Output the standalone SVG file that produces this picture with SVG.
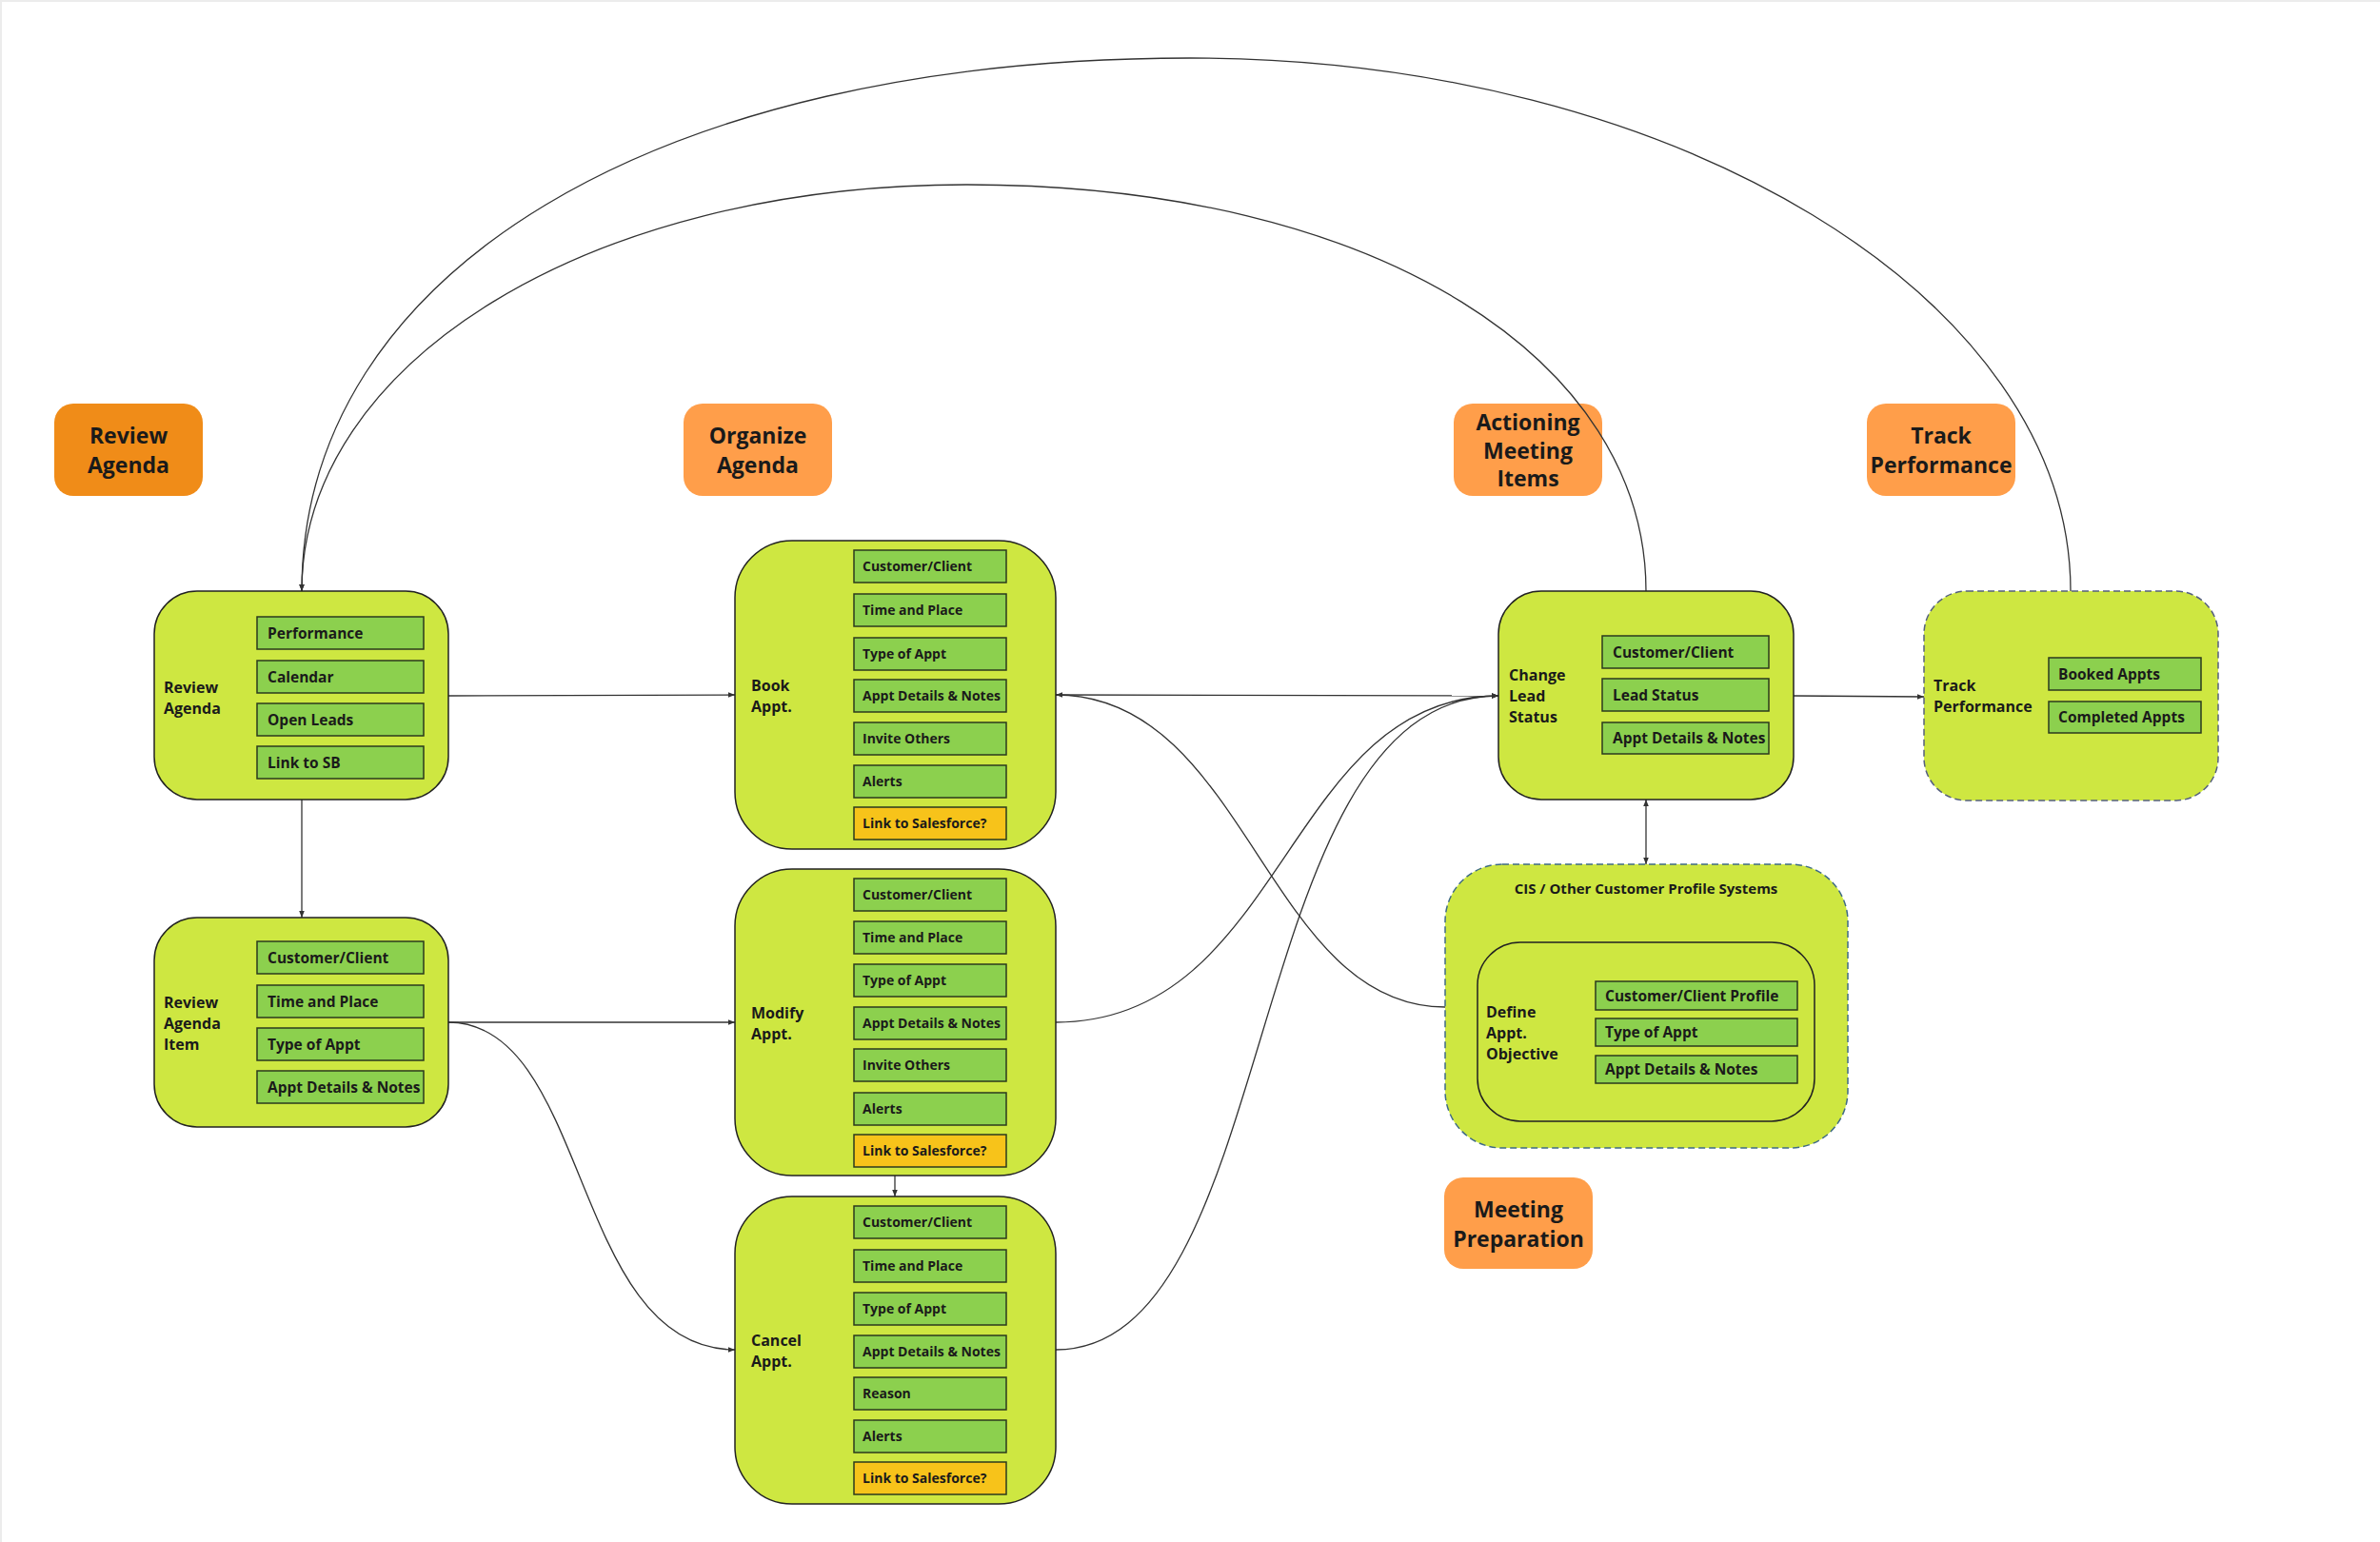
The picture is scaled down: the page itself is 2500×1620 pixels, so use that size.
<svg xmlns="http://www.w3.org/2000/svg" width="2500" height="1620" viewBox="0 0 2500 1620">
<defs>
<style>
.bg{fill:#ffffff}
.edge{fill:#ececec}
.phase{stroke:none}
.phase-dark{fill:#F08C18}
.phase-light{fill:#FF9E4A}
.phase-text{font-family:"Open Sans","Liberation Sans",sans-serif;font-weight:700;font-size:23px;fill:#1a1a1a;text-anchor:middle}
.node{fill:#CEE741;stroke:#222222;stroke-width:1.5}
.node-dash{fill:#CEE741;stroke:#55607f;stroke-width:1.5;stroke-dasharray:7 4}
.node-dash2{fill:#CEE741;stroke:#3f6b86;stroke-width:1.5;stroke-dasharray:7 4}
.inner{fill:none;stroke:#222222;stroke-width:1.5}
.label{font-family:"Open Sans","Liberation Sans",sans-serif;font-weight:700;font-size:16px;fill:#1a1a1a}
.item{fill:#8CD04E;stroke:#2b3a1e;stroke-width:1.5}
.sf{fill:#F7C31A;stroke:#2b3a1e;stroke-width:1.5}
.it{font-family:"Open Sans","Liberation Sans",sans-serif;font-weight:700;font-size:15.5px;fill:#1a1a1a}
.its{font-family:"Open Sans","Liberation Sans",sans-serif;font-weight:700;font-size:14px;fill:#1a1a1a}
.title{font-family:"Open Sans","Liberation Sans",sans-serif;font-weight:700;font-size:15px;fill:#1a1a1a;text-anchor:middle}
.conn{fill:none;stroke:#333333;stroke-width:1.3}
</style>
<marker id="arr" viewBox="0 0 10 10" refX="10" refY="5" markerWidth="7" markerHeight="7" markerUnits="userSpaceOnUse" orient="auto">
<path d="M0,1 L10,5 L0,9 z" fill="#333333"/>
</marker>
<marker id="arrs" viewBox="0 0 10 10" refX="0" refY="5" markerWidth="7" markerHeight="7" markerUnits="userSpaceOnUse" orient="auto">
<path d="M10,1 L0,5 L10,9 z" fill="#333333"/>
</marker>
</defs>
<rect class="bg" x="0" y="0" width="2500" height="1620"/>
<rect class="edge" x="0" y="0" width="2500" height="2"/>
<rect class="edge" x="0" y="0" width="2" height="1620"/>

<g id="phase-review-agenda">
<rect class="phase phase-dark" x="57" y="424" width="156" height="97" rx="20"/>
<text class="phase-text" x="135" y="466">Review</text>
<text class="phase-text" x="135" y="497">Agenda</text>
</g>
<g id="phase-organize-agenda">
<rect class="phase phase-light" x="718" y="424" width="156" height="97" rx="20"/>
<text class="phase-text" x="796" y="466">Organize</text>
<text class="phase-text" x="796" y="497">Agenda</text>
</g>
<g id="phase-actioning">
<rect class="phase phase-light" x="1527" y="424" width="156" height="97" rx="20"/>
<text class="phase-text" x="1605" y="452">Actioning</text>
<text class="phase-text" x="1605" y="482">Meeting</text>
<text class="phase-text" x="1605" y="511">Items</text>
</g>
<g id="phase-track-performance">
<rect class="phase phase-light" x="1961" y="424" width="156" height="97" rx="20"/>
<text class="phase-text" x="2039" y="466">Track</text>
<text class="phase-text" x="2039" y="497">Performance</text>
</g>
<g id="phase-meeting-preparation">
<rect class="phase phase-light" x="1517" y="1237" width="156" height="96" rx="20"/>
<text class="phase-text" x="1595" y="1279">Meeting</text>
<text class="phase-text" x="1595" y="1310">Preparation</text>
</g>

<g id="connectors">
<path class="conn" d="M2175,621 C2175,313 1759,61 1250,61 C690,61 317,285 317,621" marker-end="url(#arr)"/>
<path class="conn" d="M1729,621 C1729,380 1450,194 1015,194 C620,194 317,380 317,621" marker-end="url(#arr)"/>
<path class="conn" d="M471,731 L772,730" marker-end="url(#arr)"/>
<path class="conn" d="M317,840 L317,964" marker-end="url(#arr)"/>
<path class="conn" d="M471,1074 L772,1074" marker-end="url(#arr)"/>
<path class="conn" d="M471,1074 C620,1074 600,1418 772,1418" marker-end="url(#arr)"/>
<path class="conn" d="M940,1235 L940,1257" marker-end="url(#arr)"/>
<path class="conn" d="M1109,730 L1574,731" marker-end="url(#arr)"/>
<path class="conn" d="M1518,1058 C1330,1058 1310,730 1109,730" marker-end="url(#arr)"/>
<path class="conn" d="M1109,1074 C1350,1074 1350,731 1574,731" marker-end="url(#arr)"/>
<path class="conn" d="M1109,1418 C1350,1418 1300,731 1574,731" marker-end="url(#arr)"/>
<path class="conn" d="M1729,840 L1729,908" marker-start="url(#arrs)" marker-end="url(#arr)"/>
<path class="conn" d="M1884,731 L2021,732" marker-end="url(#arr)"/>
</g>

<g id="node-review-agenda">
<rect class="node" x="162" y="621" width="309" height="219" rx="45"/>
<text class="label" x="172" y="728">Review</text>
<text class="label" x="172" y="750">Agenda</text>
<rect class="item" x="270" y="648" width="175" height="34"/>
<text class="it" x="281" y="671">Performance</text>
<rect class="item" x="270" y="694" width="175" height="34"/>
<text class="it" x="281" y="717">Calendar</text>
<rect class="item" x="270" y="739" width="175" height="34"/>
<text class="it" x="281" y="762">Open Leads</text>
<rect class="item" x="270" y="784" width="175" height="34"/>
<text class="it" x="281" y="807">Link to SB</text>
</g>

<g id="node-review-agenda-item">
<rect class="node" x="162" y="964" width="309" height="220" rx="45"/>
<text class="label" x="172" y="1059">Review</text>
<text class="label" x="172" y="1081">Agenda</text>
<text class="label" x="172" y="1103">Item</text>
<rect class="item" x="270" y="989" width="175" height="34"/>
<text class="it" x="281" y="1012">Customer/Client</text>
<rect class="item" x="270" y="1035" width="175" height="34"/>
<text class="it" x="281" y="1058">Time and Place</text>
<rect class="item" x="270" y="1080" width="175" height="34"/>
<text class="it" x="281" y="1103">Type of Appt</text>
<rect class="item" x="270" y="1125" width="175" height="34"/>
<text class="it" x="281" y="1148">Appt Details &amp; Notes</text>
</g>

<g id="node-book-appt">
<rect class="node" x="772" y="568" width="337" height="324" rx="60"/>
<text class="label" x="789" y="726">Book</text>
<text class="label" x="789" y="748">Appt.</text>
<rect class="item" x="897" y="578" width="160" height="34"/>
<text class="its" x="906" y="600">Customer/Client</text>
<rect class="item" x="897" y="624" width="160" height="34"/>
<text class="its" x="906" y="646">Time and Place</text>
<rect class="item" x="897" y="670" width="160" height="34"/>
<text class="its" x="906" y="692">Type of Appt</text>
<rect class="item" x="897" y="714" width="160" height="34"/>
<text class="its" x="906" y="736">Appt Details &amp; Notes</text>
<rect class="item" x="897" y="759" width="160" height="34"/>
<text class="its" x="906" y="781">Invite Others</text>
<rect class="item" x="897" y="804" width="160" height="34"/>
<text class="its" x="906" y="826">Alerts</text>
<rect class="sf" x="897" y="848" width="160" height="34"/>
<text class="its" x="906" y="870">Link to Salesforce?</text>
</g>

<g id="node-modify-appt">
<rect class="node" x="772" y="913" width="337" height="322" rx="60"/>
<text class="label" x="789" y="1070">Modify</text>
<text class="label" x="789" y="1092">Appt.</text>
<rect class="item" x="897" y="923" width="160" height="34"/>
<text class="its" x="906" y="945">Customer/Client</text>
<rect class="item" x="897" y="968" width="160" height="34"/>
<text class="its" x="906" y="990">Time and Place</text>
<rect class="item" x="897" y="1013" width="160" height="34"/>
<text class="its" x="906" y="1035">Type of Appt</text>
<rect class="item" x="897" y="1058" width="160" height="34"/>
<text class="its" x="906" y="1080">Appt Details &amp; Notes</text>
<rect class="item" x="897" y="1102" width="160" height="34"/>
<text class="its" x="906" y="1124">Invite Others</text>
<rect class="item" x="897" y="1148" width="160" height="34"/>
<text class="its" x="906" y="1170">Alerts</text>
<rect class="sf" x="897" y="1192" width="160" height="34"/>
<text class="its" x="906" y="1214">Link to Salesforce?</text>
</g>

<g id="node-cancel-appt">
<rect class="node" x="772" y="1257" width="337" height="323" rx="60"/>
<text class="label" x="789" y="1414">Cancel</text>
<text class="label" x="789" y="1436">Appt.</text>
<rect class="item" x="897" y="1267" width="160" height="34"/>
<text class="its" x="906" y="1289">Customer/Client</text>
<rect class="item" x="897" y="1313" width="160" height="34"/>
<text class="its" x="906" y="1335">Time and Place</text>
<rect class="item" x="897" y="1358" width="160" height="34"/>
<text class="its" x="906" y="1380">Type of Appt</text>
<rect class="item" x="897" y="1403" width="160" height="34"/>
<text class="its" x="906" y="1425">Appt Details &amp; Notes</text>
<rect class="item" x="897" y="1447" width="160" height="34"/>
<text class="its" x="906" y="1469">Reason</text>
<rect class="item" x="897" y="1492" width="160" height="34"/>
<text class="its" x="906" y="1514">Alerts</text>
<rect class="sf" x="897" y="1536" width="160" height="34"/>
<text class="its" x="906" y="1558">Link to Salesforce?</text>
</g>

<g id="node-change-lead-status">
<rect class="node" x="1574" y="621" width="310" height="219" rx="45"/>
<text class="label" x="1585" y="715">Change</text>
<text class="label" x="1585" y="737">Lead</text>
<text class="label" x="1585" y="759">Status</text>
<rect class="item" x="1683" y="668" width="175" height="34"/>
<text class="it" x="1694" y="691">Customer/Client</text>
<rect class="item" x="1683" y="713" width="175" height="34"/>
<text class="it" x="1694" y="736">Lead Status</text>
<rect class="item" x="1683" y="759" width="175" height="33"/>
<text class="it" x="1694" y="781">Appt Details &amp; Notes</text>
</g>

<g id="node-track-performance">
<rect class="node-dash" x="2021" y="621" width="309" height="220" rx="45"/>
<text class="label" x="2031" y="726">Track</text>
<text class="label" x="2031" y="748">Performance</text>
<rect class="item" x="2152" y="691" width="160" height="34"/>
<text class="it" x="2162" y="714">Booked Appts</text>
<rect class="item" x="2152" y="737" width="160" height="33"/>
<text class="it" x="2162" y="759">Completed Appts</text>
</g>

<g id="node-cis">
<rect class="node-dash2" x="1518" y="908" width="423" height="298" rx="60"/>
<text class="title" x="1729" y="939">CIS / Other Customer Profile Systems</text>
<g id="node-define-appt-objective">
<rect class="inner" x="1552" y="990" width="354" height="188" rx="45"/>
<text class="label" x="1561" y="1069">Define</text>
<text class="label" x="1561" y="1091">Appt.</text>
<text class="label" x="1561" y="1113">Objective</text>
<rect class="item" x="1676" y="1031" width="212" height="30"/>
<text class="it" x="1686" y="1052">Customer/Client Profile</text>
<rect class="item" x="1676" y="1070" width="212" height="29"/>
<text class="it" x="1686" y="1090">Type of Appt</text>
<rect class="item" x="1676" y="1109" width="212" height="29"/>
<text class="it" x="1686" y="1129">Appt Details &amp; Notes</text>
</g>
</g>
</svg>
